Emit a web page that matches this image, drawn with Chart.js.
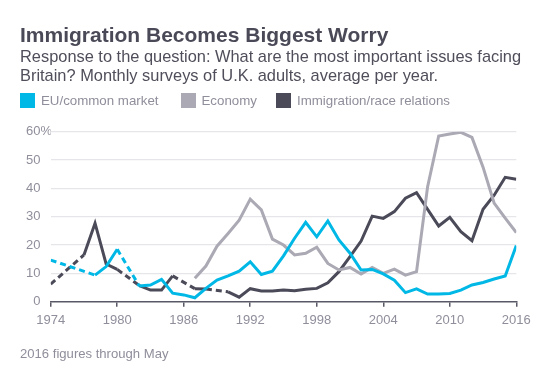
<!DOCTYPE html>
<html>
<head>
<meta charset="utf-8">
<script src="https://cdn.jsdelivr.net/npm/chart.js@4"></script>
<style>
  html, body { margin: 0; padding: 0; background: #fff; }
  #wrap { position: relative; width: 557px; height: 384px; font-family: "Liberation Sans", Arial, sans-serif; }
  #chart { position: absolute; left: 0; top: 0; }
  .title { position: absolute; left: 20px; top: 23.8px; font-size: 21px; line-height: 21px; font-weight: bold; color: #4a4957; white-space: nowrap; }
  .sub { position: absolute; left: 20px; top: 46.8px; font-size: 16.4px; line-height: 19.5px; color: #4f4e5a; white-space: nowrap; }
  .leg { position: absolute; top: 92.5px; height: 15px; font-size: 13.3px; line-height: 15px; color: #8f8e9b; white-space: nowrap; }
  .leg span { display: inline-block; width: 15px; height: 15px; vertical-align: top; margin-right: 6px; }
  .note { position: absolute; left: 20px; top: 347.2px; font-size: 13.1px; line-height: 13.1px; color: #8f8e9b; white-space: nowrap; }
</style>
</head>
<body>
<div id="wrap">
  <canvas id="chart" width="557" height="384"></canvas>
  <div class="title">Immigration Becomes Biggest Worry</div>
  <div class="sub">Response to the question: What are the most important issues facing<br>Britain? Monthly surveys of U.K. adults, average per year.</div>
  <div class="leg" style="left:20px"><span style="background:#00b8e6"></span>EU/common market</div>
  <div class="leg" style="left:180.5px"><span style="background:#aaa9b4"></span>Economy</div>
  <div class="leg" style="left:276px"><span style="background:#4b4a59"></span>Immigration/race relations</div>
  <div class="note">2016 figures through May</div>
</div>

<script>
// survey years, 1974 - 2016 (null = no survey that year, drawn dashed)
const years = [];
for (let y = 1974; y <= 2016; y++) years.push(y);

const euCommonMarket = [
  14.7, null, null, null, 9.4, 12.4, 18.5, null, 5.5, 5.9,
  7.9, 3.0, 2.4, 1.4, 4.7, 7.6, 9.1, 10.8, 14.1, 9.6,
  10.8, 16.2, 22.4, 28.0, 22.9, 28.5, 21.8, 17.1, 11.2, 11.4,
  9.8, 7.6, 3.2, 4.5, 2.7, 2.7, 2.9, 4.1, 5.9, 6.8,
  8.0, 9.1, 19.8
];

const economy = [
  null, null, null, null, null, null, null, null, null, null,
  null, null, null, 8.3, 12.6, 19.6, 24.1, 28.8, 36.2, 32.4,
  22.1, 20.0, 16.5, 17.1, 19.2, 13.5, 11.2, 12.1, 9.8, 12.1,
  10.0, 11.5, 9.4, 10.6, 40.6, 58.5, 59.2, 59.8, 58.0, 47.5,
  34.8, 29.5, 24.4
];

const immigration = [
  6.2, null, null, 16.5, 27.7, 13.3, 11.4, null, 5.7, 4.1,
  4.1, 9.1, null, 4.6, 4.5, null, 3.5, 1.6, 4.6, 3.8,
  3.8, 4.1, 3.9, 4.4, 4.7, 6.7, 10.6, 15.9, 21.4, 30.2,
  29.4, 31.8, 36.5, 38.5, 32.6, 26.7, 29.8, 24.7, 21.5, 32.6,
  37.6, 43.9, 43.2
];

const yTicks = [0, 10, 20, 30, 40, 50, 60];
const xTicks = [1974, 1980, 1986, 1992, 1998, 2004, 2010, 2016];

const font = '"Liberation Sans", Arial, sans-serif';
const muted = '#8f8e9b';

function pts(arr) {
  return years.map(function(y, i) { return { x: y, y: arr[i] }; });
}

// dashed where the line bridges a missing year
const gapDash = function(ctx) {
  return (ctx.p0.skip || ctx.p1.skip) ? [6, 4] : undefined;
};

function series(label, arr, color) {
  return {
    label: label,
    data: pts(arr),
    borderColor: color,
    backgroundColor: color,
    borderWidth: 3,
    pointRadius: 0,
    tension: 0,
    spanGaps: true,
    segment: { borderDash: gapDash }
  };
}

new Chart(document.getElementById('chart'), {
  type: 'line',
  data: {
    datasets: [
      series('EU/common market', euCommonMarket, '#00b8e6'),
      series('Economy', economy, '#aaa9b4'),
      series('Immigration/race relations', immigration, '#4b4a59')
    ]
  },
  options: {
    responsive: false,
    animation: false,
    devicePixelRatio: 1,
    layout: { padding: { left: 26, top: 131.7, right: 40.7, bottom: 52.3 } },
    plugins: { legend: { display: false }, tooltip: { enabled: false } },
    scales: {
      x: {
        type: 'linear',
        min: 1974,
        max: 2016,
        afterBuildTicks: function(scale) {
          scale.ticks = xTicks.map(function(v) { return { value: v }; });
        },
        afterFit: function(scale) { scale.height = 30; },
        ticks: {
          autoSkip: false,
          maxRotation: 0,
          padding: 6,
          color: muted,
          font: { family: font, size: 13 },
          callback: function(v) { return String(v); }
        },
        grid: { drawOnChartArea: false, drawTicks: true, tickLength: 5, color: '#595866', lineWidth: 1.5 },
        border: { display: true, color: '#595866', width: 1.5 }
      },
      y: {
        min: 0,
        max: 60,
        afterBuildTicks: function(scale) {
          scale.ticks = yTicks.map(function(v) { return { value: v }; });
        },
        afterFit: function(scale) { scale.width = 24.7; },
        ticks: {
          crossAlign: 'far',
          color: muted,
          font: { family: font, size: 13 },
          callback: function(v) {
            if (v === 60) return '60%';
            if (v === 0) return '  0';
            return String(v);
          }
        },
        grid: {
          drawTicks: false,
          lineWidth: 1.2,
          color: function(ctx) { return ctx.tick && ctx.tick.value === 0 ? 'rgba(0,0,0,0)' : '#e6e6ea'; }
        },
        border: { display: false }
      }
    }
  }
});
</script>
</body>
</html>
